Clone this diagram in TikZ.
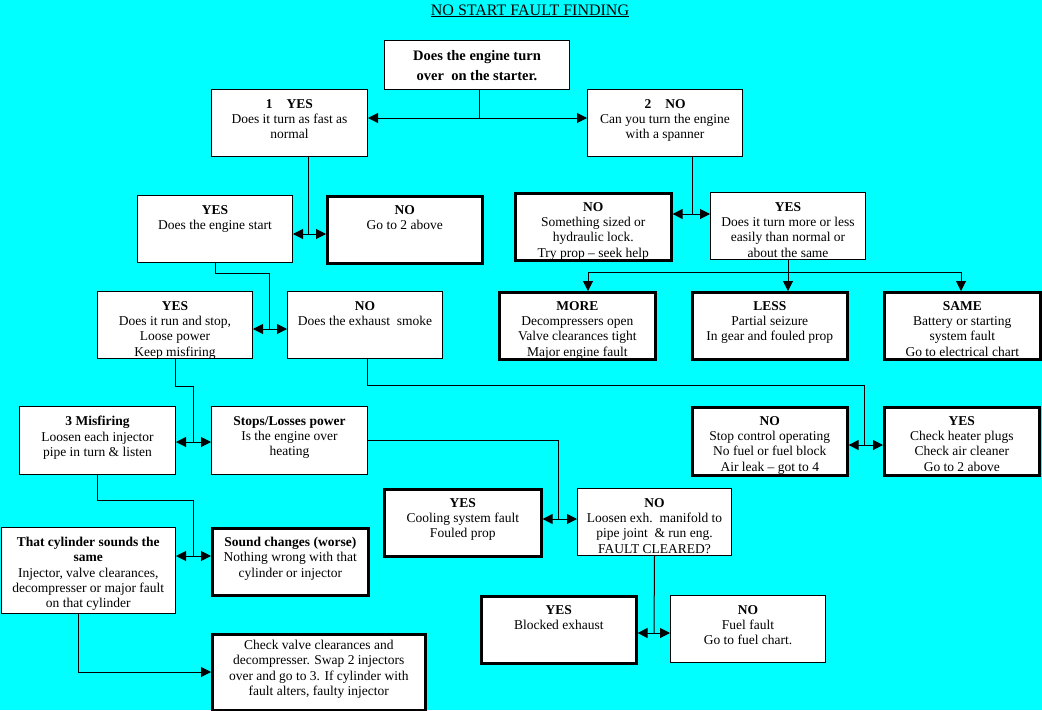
\documentclass[tikz,border=0pt]{standalone}
\usepackage{fontspec}
\setmainfont{Liberation Serif}
\usetikzlibrary{arrows.meta}
\definecolor{bg}{RGB}{0,255,255}
\tikzset{
  thinbox/.style={draw=black, fill=white, line width=1pt, rectangle, inner sep=0pt},
  thickbox/.style={draw=black, fill=white, line width=2.6pt, rectangle, inner sep=0pt},
  txt/.style={align=center, inner sep=0pt, font=\fontsize{13.5}{15.3}\selectfont},
  conn/.style={line width=1pt},
  arr/.style={line width=1pt, -{Triangle[length=10pt,width=10pt]}},
}
% name, x1, y1, x2, y2, box style, text
\newcommand\chartbox[7]{%
  \node[#6, minimum width={#4-#2}, minimum height={#5-#3}, anchor=north west] (#1) at (#2,#3) {};
  \node[txt, anchor=north] (#1-txt) at ([yshift=-10pt]#1.north) {#7};
}
\begin{document}
\begin{tikzpicture}[x=1pt, y=-1pt]
\path[fill=bg] (0,0) rectangle (1042,710);
\useasboundingbox (0,0) rectangle (1042,710);

\node[anchor=base, inner sep=0pt, font=\fontsize{16}{18}\selectfont] (title) at (530,15) {\underline{NO START FAULT FINDING}};

% top box
\node[thinbox, minimum width=185pt, minimum height=49pt, anchor=north west] (top) at (384,40) {};
\node[align=center, inner sep=0pt, anchor=north, font=\bfseries\fontsize{14.5}{20}\selectfont] (top-txt) at ([yshift=-10.4pt]top.north) {Does the engine turn\\over\ \ on the starter.};

\chartbox{yes1}{211}{89}{367}{156}{thinbox}{\textbf{1\hspace{14pt}YES}\\Does it turn as fast as\\normal}
\chartbox{no2}{587}{89}{742}{156}{thinbox}{\textbf{2\hspace{14pt}NO}\\Can you turn the engine\\with a spanner}
\chartbox{ystart}{137}{195}{292}{262}{thinbox}{\textbf{YES}\\Does the engine start}
\chartbox{nogo}{326}{195}{481}{262}{thickbox}{\textbf{NO}\\Go to 2 above}
\chartbox{yrun}{97}{291}{252}{358}{thinbox}{\textbf{YES}\\Does it run and stop,\\Loose power\\Keep misfiring}
\chartbox{nexh}{287}{291}{442}{358}{thinbox}{\textbf{NO}\\Does the exhaust\ \ smoke}
\chartbox{nsz}{514}{192}{670}{259}{thickbox}{\textbf{NO}\\Something sized or\\hydraulic lock.\\Try prop – seek help}
\chartbox{yturn}{710}{192}{865}{259}{thinbox}{\textbf{YES}\\Does it turn more or less\\easily than normal or\\about the same}
\chartbox{more}{498}{291}{654}{358}{thickbox}{\textbf{MORE}\\Decompressers open\\Valve clearances tight\\Major engine fault}
\chartbox{less}{691}{291}{846}{358}{thickbox}{\textbf{LESS}\\Partial seizure\\In gear and fouled prop}
\chartbox{same}{883}{291}{1039}{358}{thickbox}{\textbf{SAME}\\Battery or starting\\system fault\\Go to electrical chart}
\chartbox{mis}{19}{406}{175}{474}{thinbox}{\textbf{3 Misfiring}\\Loosen each injector\\pipe in turn \& listen}
\chartbox{stops}{211}{406}{367}{474}{thinbox}{\textbf{Stops/Losses power}\\Is the engine over\\heating}
\chartbox{nstop}{691}{406}{846}{474}{thickbox}{\textbf{NO}\\Stop control operating\\No fuel or fuel block\\Air leak – got to 4}
\chartbox{yheat}{883}{406}{1038}{474}{thickbox}{\textbf{YES}\\Check heater plugs\\Check air cleaner\\Go to 2 above}
\chartbox{cyl}{0.5}{527}{175}{613}{thinbox}{\textbf{That cylinder sounds the}\\\textbf{same}\\Injector, valve clearances,\\decompresser or major fault\\on that cylinder}
\chartbox{snd}{211}{527}{367}{594}{thickbox}{\textbf{Sound changes (worse)}\\Nothing wrong with that\\cylinder or injector}
\chartbox{cool}{383}{488}{540}{555}{thickbox}{\textbf{YES}\\Cooling system fault\\Fouled prop}
\chartbox{loos}{577}{488}{731}{555}{thinbox}{\textbf{NO}\\Loosen exh.\ \ manifold to\\pipe joint\ \ \& run eng.\\FAULT CLEARED?}
\chartbox{blk}{480}{595}{635}{662}{thickbox}{\textbf{YES}\\Blocked exhaust}
\chartbox{fuel}{670}{595}{825}{662}{thinbox}{\textbf{NO}\\Fuel fault\\Go to fuel chart.}

% check box
\node[thickbox, minimum width=213pt, minimum height=76pt, anchor=north west] (check) at (211,633) {};
\node[txt, anchor=north] (check-txt) at ([yshift=-7pt]check.north) {Check valve clearances and\\decompresser. Swap 2 injectors\\over and go to 3. If cylinder with\\fault alters, faulty injector};

% connectors
\coordinate (j1) at (479,118);
\draw[conn] (j1 |- top.south) -- (j1);
\draw[arr] (j1) -- (yes1.east |- j1);
\draw[arr] (j1) -- (no2.west |- j1);

\coordinate (j2) at (308,234);
\draw[conn] (j2 |- yes1.south) -- (j2);
\draw[arr] (j2) -- (ystart.east |- j2);
\draw[arr] (j2) -- (nogo.west |- j2);

\coordinate (j3) at (269,329);
\draw[conn] (ystart.south) -- ++(0,10) -| (j3);
\draw[arr] (j3) -- (yrun.east |- j3);
\draw[arr] (j3) -- (nexh.west |- j3);

\coordinate (j4) at (692,214);
\draw[conn] (j4 |- no2.south) -- (j4);
\draw[arr] (j4) -- (nsz.east |- j4);
\draw[arr] (j4) -- (yturn.west |- j4);

\coordinate (j5) at (788,272);
\coordinate (m5) at (588,272);
\coordinate (s5) at (961,272);
\draw[conn] (j5 |- yturn.south) -- (j5);
\draw[arr] (j5) -- (m5) -- (m5 |- more.north);
\draw[arr] (j5) -- (j5 |- less.north);
\draw[arr] (j5) -- (s5) -- (s5 |- same.north);

\coordinate (j6) at (193,442);
\draw[conn] (yrun.south) -- ++(0,27) -| (j6);
\draw[arr] (j6) -- (mis.east |- j6);
\draw[arr] (j6) -- (stops.west |- j6);

\coordinate (c7) at (367,385);
\coordinate (j7) at (864,445);
\draw[conn] (c7 |- nexh.south) -- (c7) -| (j7);
\draw[arr] (j7) -- (nstop.east |- j7);
\draw[arr] (j7) -- (yheat.west |- j7);

\coordinate (j8) at (558,519);
\draw[conn] (stops.east) -| (j8);
\draw[arr] (j8) -- (cool.east |- j8);
\draw[arr] (j8) -- (loos.west |- j8);

\coordinate (j9) at (193,556);
\draw[conn] (mis.south) -- ++(0,25) -| (j9);
\draw[arr] (j9) -- (cyl.east |- j9);
\draw[arr] (j9) -- (snd.west |- j9);

\coordinate (c10) at (78,672);
\draw[arr] (c10 |- cyl.south) -- (c10) -- (check.west |- c10);

\coordinate (j11) at (654,633);
\draw[conn] (loos.south) -- (j11);
\draw[arr] (j11) -- (blk.east |- j11);
\draw[arr] (j11) -- (fuel.west |- j11);
\end{tikzpicture}
\end{document}
